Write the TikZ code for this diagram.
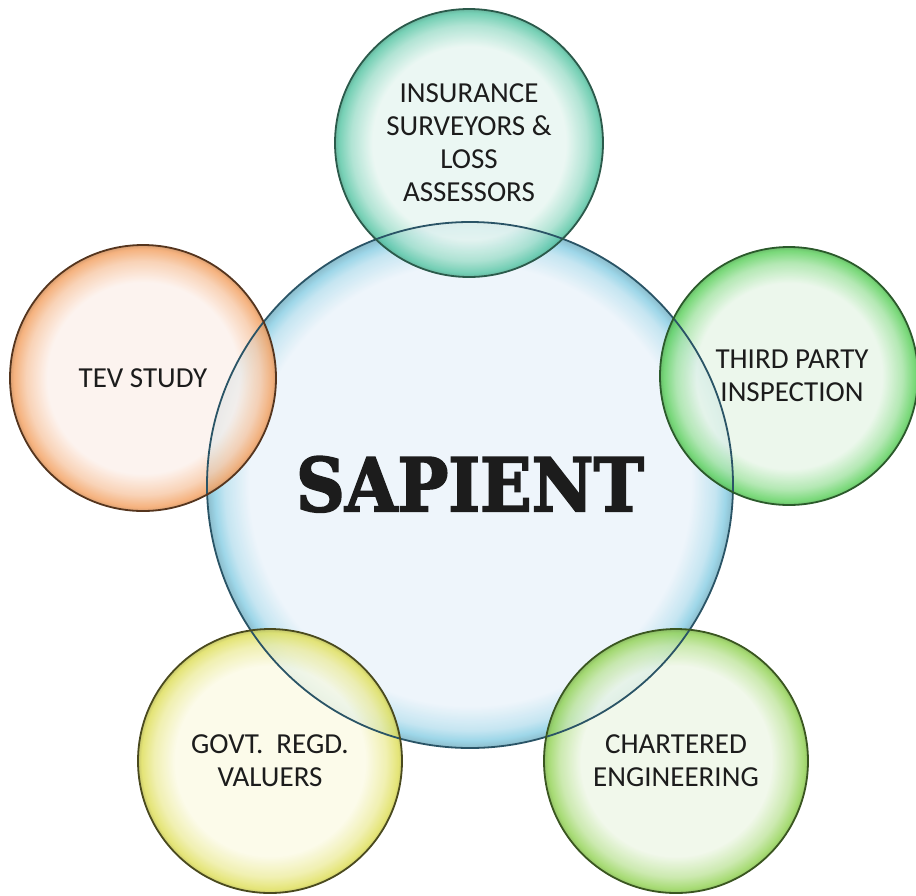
\documentclass[tikz,border=0pt]{standalone}
\usepackage{fontspec}
\setmainfont{Carlito}
\newfontfamily\slabfont[FakeBold=2.5]{DejaVu Serif Bold}
\definecolor{txt}{HTML}{1C1C1C}
\definecolor{cIn}{HTML}{EBF3FA}\definecolor{cOut}{HTML}{8CCFE4}\definecolor{cLine}{HTML}{2A5466}
\definecolor{tIn}{HTML}{E8F6F1}\definecolor{tOut}{HTML}{5EC8A8}\definecolor{tLine}{HTML}{2B5A4B}
\definecolor{oIn}{HTML}{FCF1EC}\definecolor{oOut}{HTML}{F3A467}\definecolor{oLine}{HTML}{55351E}
\definecolor{gIn}{HTML}{E9F6E9}\definecolor{gOut}{HTML}{62D262}\definecolor{gLine}{HTML}{2B5A2B}
\definecolor{yIn}{HTML}{FBFAE6}\definecolor{yOut}{HTML}{E0E060}\definecolor{yLine}{HTML}{4A4A1E}
\definecolor{lIn}{HTML}{EFF7E8}\definecolor{lOut}{HTML}{96D45A}\definecolor{lLine}{HTML}{3A5620}
% #1 name, #2 inner, #3 outer, #4 start of rim band, #5 middle of band
\newcommand\mkbubble[5]{%
  \pgfdeclareradialshading{#1}{\pgfpoint{0bp}{0bp}}{%
    color(0bp)=(#2); color(#4bp)=(#2); color(#5bp)=(#2!50!#3);
    color(24.3bp)=(#3); color(25bp)=(#3!85!black); color(50bp)=(#3!85!black)}}
\mkbubble{shC}{cIn}{cOut}{21}{23.3}
\mkbubble{shT}{tIn}{tOut}{18}{22}
\mkbubble{shO}{oIn}{oOut}{18}{22}
\mkbubble{shG}{gIn}{gOut}{18}{22}
\mkbubble{shY}{yIn}{yOut}{18}{22}
\mkbubble{shL}{lIn}{lOut}{18}{22}
\begin{document}
\begin{tikzpicture}[x=1pt,y=-1pt,
  bub/.style={circle, inner sep=0pt, fill opacity=0.85, text opacity=1,
    font=\fontsize{29}{33}\selectfont, align=center, text=txt},
  rim/.style={draw=#1, line width=1.8pt}]
\useasboundingbox (0,0) rectangle (916,895);
\node[bub, minimum size=526pt, shading=shC] (core) at (470,485)
  {\raisebox{2.5pt}{\resizebox{348pt}{55pt}{\slabfont SAPIENT}}};
\node[bub, minimum size=268pt, shading=shT] (ins) at (469,143)
  {INSURANCE\\SURVEYORS \&\\LOSS\\ASSESSORS};
\node[bub, minimum size=266pt, shading=shO] (tev) at (143,378)
  {TEV STUDY};
\node[bub, minimum size=258pt, shading=shG] (tpi) at (789,376)
  {\hspace*{6pt}THIRD PARTY\\\hspace*{6pt}INSPECTION};
\node[bub, minimum size=264pt, shading=shY] (gov) at (270,761)
  {GOVT.\ \ REGD.\\VALUERS};
\node[bub, minimum size=264pt, shading=shL] (che) at (676,761)
  {CHARTERED\\ENGINEERING};
\draw[rim=cLine] (core.center) circle[radius=263pt];
\draw[rim=tLine] (ins.center) circle[radius=134pt];
\draw[rim=oLine] (tev.center) circle[radius=133pt];
\draw[rim=gLine] (tpi.center) circle[radius=129pt];
\draw[rim=yLine] (gov.center) circle[radius=132pt];
\draw[rim=lLine] (che.center) circle[radius=132pt];
\end{tikzpicture}
\end{document}
